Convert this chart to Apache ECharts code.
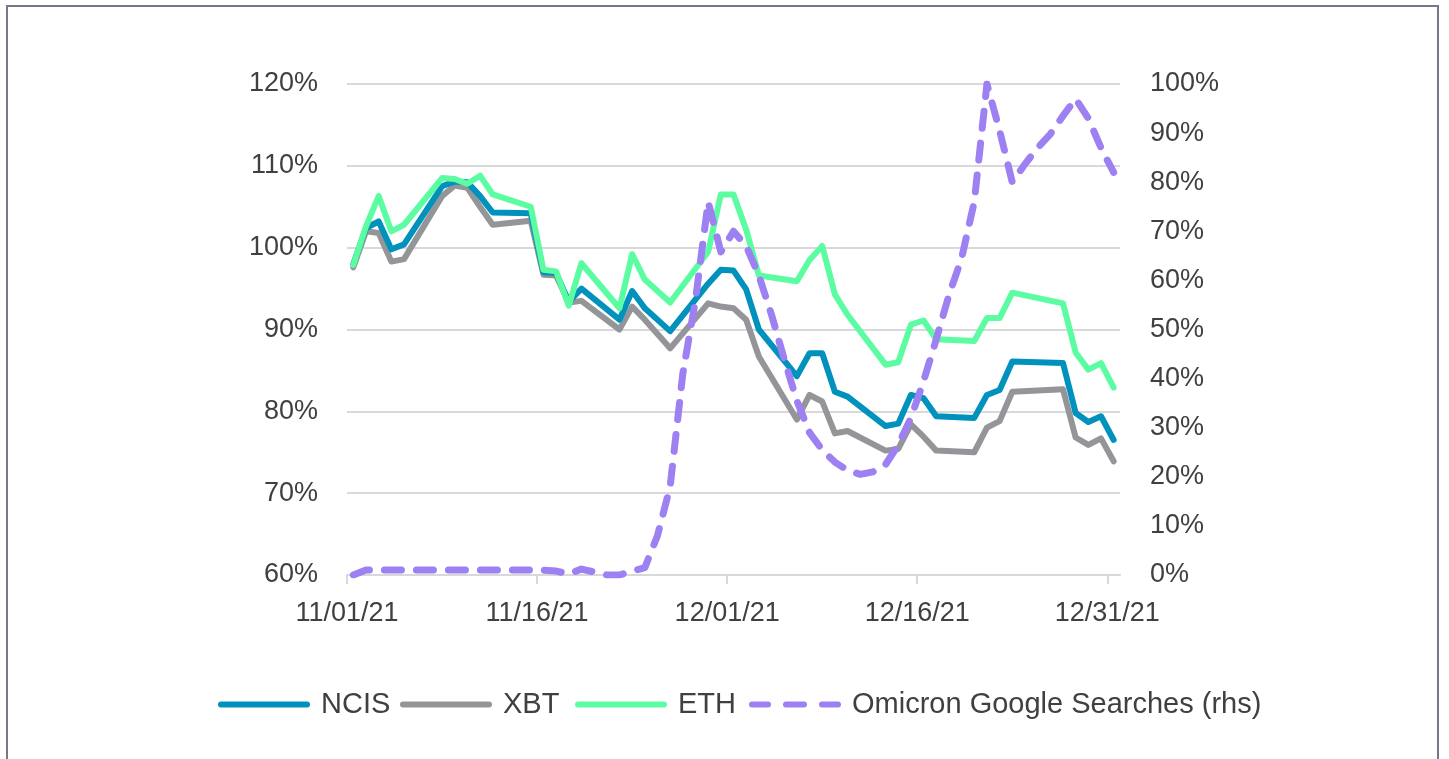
<!DOCTYPE html>
<html>
<head>
<meta charset="utf-8">
<script src="https://cdn.jsdelivr.net/npm/echarts@6/dist/echarts.min.js"></script>
<style>
  html, body { margin: 0; padding: 0; background: #fff; }
  #wrap { position: relative; width: 1449px; height: 759px; overflow: hidden; }
  #chart { position: absolute; left: 0; top: 0; width: 1449px; height: 759px; }
  #frame { position: absolute; left: 6px; top: 5px; width: 1433px; height: 800px;
           border: 2px solid #77778a; box-sizing: border-box; pointer-events: none; }
</style>
</head>
<body>
<div id="wrap"><div id="chart"></div><div id="frame"></div></div>
<script>
// Day index from 11/01/21 (0) to 12/31/21 (60)
const tickLabels = { 0: '11/01/21', 15: '11/16/21', 30: '12/01/21', 45: '12/16/21', 60: '12/31/21' };

// Trading-day indices (weekdays, excluding holidays)
const tradeDays = [0,1,2,3,4,7,8,9,10,11,14,15,16,17,18,21,22,23,25,28,29,30,31,32,35,36,37,38,39,42,43,44,45,46,49,50,51,52,56,57,58,59,60];

const ncis = [98.0,102.4,103.2,99.8,100.4,107.5,108.1,108.0,106.3,104.3,104.2,97.0,96.9,93.4,95.0,91.2,94.7,92.6,89.8,95.6,97.3,97.2,94.9,90.0,84.3,87.1,87.1,82.4,81.8,78.2,78.5,82.0,81.6,79.4,79.2,82.0,82.6,86.1,85.9,79.8,78.7,79.4,76.5];
const xbt  = [97.6,102.0,101.8,98.3,98.6,106.3,107.6,107.3,105.0,102.8,103.3,96.7,96.6,93.3,93.5,90.0,92.8,91.2,87.7,93.2,92.8,92.6,91.2,86.7,79.0,82.0,81.2,77.3,77.6,75.2,75.4,78.4,76.9,75.2,75.0,78.0,78.8,82.4,82.7,76.8,75.9,76.7,73.9];
const eth  = [97.9,102.6,106.3,102.0,102.8,108.5,108.4,107.8,108.8,106.5,105.0,97.3,97.1,92.9,98.1,92.6,99.2,96.1,93.3,99.5,106.5,106.5,102.2,96.6,95.9,98.5,100.2,94.3,91.8,85.7,86.0,90.6,91.1,88.8,88.6,91.4,91.4,94.5,93.2,87.2,85.1,85.9,82.9];

// Omicron Google searches (rhs), daily, days 0..60
const omicron = [0,1,1,1,1,1,1,1,1,1,1,1,1,1,1,1,0.8,0.2,1.2,0.6,0,0,0.8,1.5,8,18,41,56,76,65.8,70,67,61,53,44,35.5,29,25.5,23,21.3,20.5,21,22.5,26.5,32,39.5,48,57,64.5,76,100,90.5,80,83.7,87,89.8,93.5,97,93,87,82];

const pairs = (days, vals) => days.map((d, i) => [d + 0.5, vals[i]]);
const allDays = omicron.map((_, i) => i);

const cBlue = '#0092bd', cGray = '#949598', cGreen = '#5cfda2', cPurple = '#9d80f1';
const txt = '#404040';
const FONT = 'Liberation Sans, Arial, sans-serif';

const solidIcon = 'path://M3,0H89A3,3 0 0 1 89,6H3A3,3 0 0 1 3,0Z';
const dashIcon = 'path://M3,0H19A3,3 0 0 1 19,6H3A3,3 0 0 1 3,0Z M37,0H55A3,3 0 0 1 55,6H37A3,3 0 0 1 37,0Z M73,0H89A3,3 0 0 1 89,6H73A3,3 0 0 1 73,0Z';

const chart = echarts.init(document.getElementById('chart'), null, { renderer: 'canvas' });

function legendFor(name, left, icon) {
  return {
    data: [{ name: name, icon: icon }], left: left, top: 690, orient: 'horizontal',
    padding: 0, itemWidth: 92, itemHeight: 6, itemGap: 0,
    textStyle: { fontFamily: FONT, fontSize: 29, color: txt, padding: [0, 0, 0, 6] },
    selectedMode: false
  };
}

const option = {
  animation: false,
  backgroundColor: '#fff',
  grid: { left: 347, right: 329, top: 84, bottom: 184 },
  legend: [
    legendFor('NCIS', 218, solidIcon),
    legendFor('XBT', 400, solidIcon),
    legendFor('ETH', 575, solidIcon),
    legendFor('Omicron Google Searches (rhs)', 749, dashIcon)
  ],
  xAxis: {
    type: 'value', min: 0, max: 61, interval: 15,
    axisLine: { show: true, lineStyle: { color: '#d9d9d9', width: 2 } },
    axisTick: { show: true, inside: false, length: 9, customValues: [0, 15, 30, 45, 60],
                lineStyle: { color: '#d9d9d9', width: 2 } },
    axisLabel: { customValues: [0, 15, 30, 45, 60], margin: 25,
                 fontFamily: FONT, fontSize: 27, color: txt,
                 formatter: v => tickLabels[v] || '' },
    splitLine: { show: false }
  },
  yAxis: [
    {
      type: 'value', min: 60, max: 120, interval: 10, position: 'left',
      axisLine: { show: false }, axisTick: { show: false },
      axisLabel: { margin: 29, fontFamily: FONT, fontSize: 27, color: txt, formatter: '{value}%' },
      splitLine: { show: true, lineStyle: { color: '#d9d9d9', width: 2 } }
    },
    {
      type: 'value', min: 0, max: 100, interval: 10, position: 'right',
      axisLine: { show: false }, axisTick: { show: false },
      axisLabel: { margin: 30, fontFamily: FONT, fontSize: 27, color: txt, formatter: '{value}%' },
      splitLine: { show: false }
    }
  ],
  series: [
    { name: 'NCIS', type: 'line', yAxisIndex: 0, z: 3, data: pairs(tradeDays, ncis),
      showSymbol: false, symbol: 'none', color: cBlue,
      lineStyle: { color: cBlue, width: 6, join: 'round', cap: 'round' } },
    { name: 'XBT', type: 'line', yAxisIndex: 0, z: 2, data: pairs(tradeDays, xbt),
      showSymbol: false, symbol: 'none', color: cGray,
      lineStyle: { color: cGray, width: 6, join: 'round', cap: 'round' } },
    { name: 'ETH', type: 'line', yAxisIndex: 0, z: 4, data: pairs(tradeDays, eth),
      showSymbol: false, symbol: 'none', color: cGreen,
      lineStyle: { color: cGreen, width: 6, join: 'round', cap: 'round' } },
    { name: 'Omicron Google Searches (rhs)', type: 'line', yAxisIndex: 1, z: 5,
      data: pairs(allDays, omicron),
      showSymbol: false, symbol: 'none', color: cPurple,
      lineStyle: { color: cPurple, width: 7, type: [17, 15], cap: 'round', join: 'round' } }
  ]
};
chart.setOption(option);
</script>
</body>
</html>
